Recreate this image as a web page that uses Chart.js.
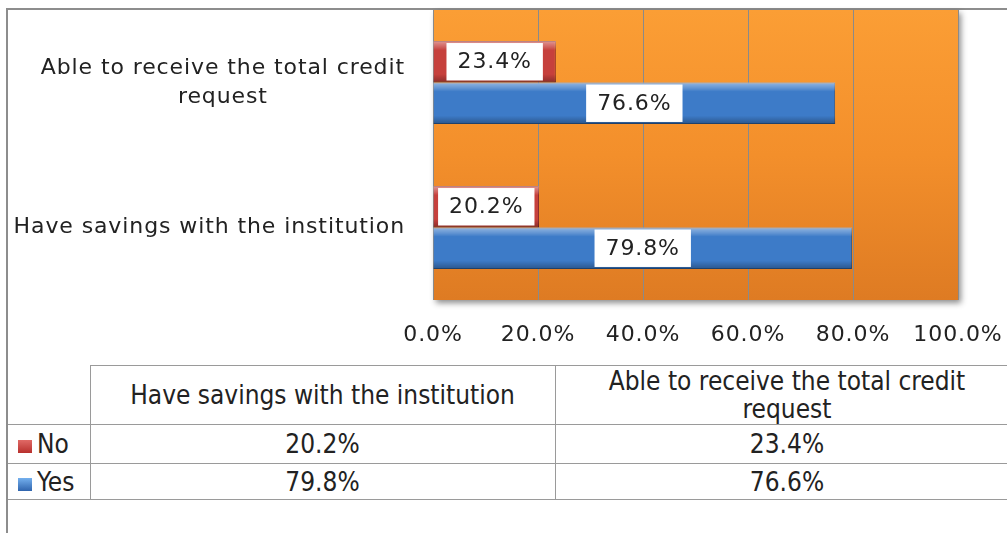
<!DOCTYPE html>
<html>
<head>
<meta charset="utf-8">
<script src="https://cdn.jsdelivr.net/npm/chart.js@4.4.0/dist/chart.umd.min.js"></script>
<style>
  html, body { margin: 0; padding: 0; width: 1007px; height: 533px; overflow: hidden; background: #fff; }
  #frame { position: absolute; left: 6px; top: 8px; width: 1100px; height: 600px;
    border-top: 2px solid #8d8d8d; border-left: 2px solid #8d8d8d; }
  #chartBox { position: absolute; left: 0; top: 0; width: 1007px; height: 360px; }
  #dataTable { position: absolute; left: 8px; top: 365px; width: 1011px; border-collapse: collapse; table-layout: fixed;
    font-family: "Liberation Sans Narrow", "DejaVu Sans Condensed", sans-serif; font-size: 26px; color: #222; }
  #dataTable td { border: 1.5px solid #9a9a9a; text-align: center; padding: 0; overflow: hidden; white-space: nowrap; }
  #dataTable td.corner { border-top: none; border-left: none; }
  #dataTable td.key { text-align: left; padding-left: 10px; border-left: none; }
  #dataTable tr.head td { height: 58px; line-height: 28px; }
  #dataTable tr.r0 td { height: 38px; }
  #dataTable tr.r1 td { height: 35px; }
  .swatch { display: inline-block; width: 14px; height: 13px; margin-right: 5px; vertical-align: 0px; }
</style>
</head>
<body>
<div id="frame"></div>
<div id="chartBox"><canvas id="barChart"></canvas></div>
<table id="dataTable"></table>
<script>
const categories = [["Have savings with the institution"], ["Able to receive the total credit", "request"]];
const seriesNames = ["No", "Yes"];
const noValues = [20.2, 23.4];
const yesValues = [79.8, 76.6];
const xTickValues = [0, 20, 40, 60, 80, 100];

const seriesColors = ["#c6403c", "#3d7bc8"];
const seriesBorders = ["#8c2b28", "#2b5a94"];
const swatchFills = [
  "linear-gradient(#e06a66, #b8302d)",
  "linear-gradient(#74b0ee, #2f64ad)"
];

const pct = v => v.toFixed(1) + "%";

// data table under the chart
const table = document.getElementById("dataTable");
let html = '<colgroup><col style="width:82px"><col style="width:465px"><col style="width:464px"></colgroup>';
html += '<tr class="head"><td class="corner"></td>' +
  categories.map(c => "<td>" + c.join("<br>") + "</td>").join("") + "</tr>";
[noValues, yesValues].forEach((vals, i) => {
  html += '<tr class="r' + i + '"><td class="key"><span class="swatch" style="background:' + swatchFills[i] +
    '"></span>' + seriesNames[i] + "</td>" + vals.map(v => "<td>" + pct(v) + "</td>").join("") + "</tr>";
});
table.innerHTML = html;

const plotBackground = {
  id: "plotBackground",
  beforeDraw(chart) {
    const { ctx, chartArea: a } = chart;
    ctx.letterSpacing = "0.9px"; // the original text is a bit stretched sideways
    ctx.save();
    ctx.shadowColor = "rgba(0,0,0,0.45)";
    ctx.shadowBlur = 6;
    ctx.shadowOffsetX = 3;
    ctx.shadowOffsetY = 3;
    const g = ctx.createLinearGradient(0, a.top, 0, a.bottom);
    g.addColorStop(0, "#fb9e35");
    g.addColorStop(0.5, "#f38f2b");
    g.addColorStop(1, "#de7b23");
    ctx.fillStyle = g;
    ctx.fillRect(a.left, a.top, a.right - a.left, a.bottom - a.top);
    ctx.restore();
  }
};

const barBevel = {
  id: "barBevel",
  afterDatasetsDraw(chart) {
    const ctx = chart.ctx;
    chart.data.datasets.forEach((ds, i) => {
      chart.getDatasetMeta(i).data.forEach(bar => {
        const top = bar.y - bar.height / 2, bottom = bar.y + bar.height / 2;
        const left = Math.min(bar.x, bar.base), right = Math.max(bar.x, bar.base);
        const g = ctx.createLinearGradient(0, top, 0, bottom);
        g.addColorStop(0, "rgba(255,255,255,0.45)");
        g.addColorStop(0.14, "rgba(255,255,255,0.18)");
        g.addColorStop(0.22, "rgba(255,255,255,0)");
        g.addColorStop(0.8, "rgba(0,0,0,0)");
        g.addColorStop(1, "rgba(0,0,0,0.3)");
        ctx.save();
        ctx.fillStyle = g;
        ctx.fillRect(left, top, right - left, bottom - top);
        ctx.restore();
      });
    });
  }
};

const valueBoxes = {
  id: "valueBoxes",
  afterDatasetsDraw(chart) {
    const ctx = chart.ctx;
    ctx.save();
    ctx.font = "22px 'DejaVu Sans'";
    ctx.textAlign = "center";
    ctx.textBaseline = "middle";
    chart.data.datasets.forEach((ds, i) => {
      chart.getDatasetMeta(i).data.forEach((bar, j) => {
        const text = pct(ds.data[j]);
        const w = ctx.measureText(text).width + 22;
        const h = bar.height - 4;
        const cx = (bar.x + bar.base) / 2;
        ctx.fillStyle = "#fff";
        ctx.fillRect(cx - w / 2, bar.y - h / 2, w, h);
        ctx.fillStyle = "#222";
        ctx.fillText(text, cx, bar.y + 1);
      });
    });
    ctx.restore();
  }
};

const categoryLabels = {
  id: "categoryLabels",
  afterDraw(chart) {
    const ctx = chart.ctx;
    const yScale = chart.scales.y;
    ctx.save();
    ctx.font = "22px 'DejaVu Sans'";
    ctx.fillStyle = "#222";
    ctx.textAlign = "center";
    ctx.textBaseline = "middle";
    categories.forEach((lines, i) => {
      const y = yScale.getPixelForTick(i);
      const maxW = Math.max(...lines.map(l => ctx.measureText(l).width));
      const cx = yScale.right - 28 - maxW / 2;
      const lh = 29;
      lines.forEach((l, k) => ctx.fillText(l, cx, y - (lines.length - 1) * lh / 2 + k * lh));
    });
    ctx.restore();
  }
};

new Chart(document.getElementById("barChart"), {
  type: "bar",
  data: {
    labels: categories,
    datasets: [
      { label: seriesNames[0], data: noValues, backgroundColor: seriesColors[0], borderColor: seriesBorders[0], borderWidth: 1 },
      { label: seriesNames[1], data: yesValues, backgroundColor: seriesColors[1], borderColor: seriesBorders[1], borderWidth: 1 }
    ]
  },
  options: {
    indexAxis: "y",
    responsive: true,
    maintainAspectRatio: false,
    animation: false,
    datasets: { bar: { categoryPercentage: 0.572, barPercentage: 1 } },
    layout: { padding: { top: 10, right: 49, left: 0, bottom: 0 } },
    plugins: { legend: { display: false }, tooltip: { enabled: false } },
    scales: {
      x: {
        min: 0,
        max: 100,
        afterBuildTicks: s => { s.ticks = xTickValues.map(v => ({ value: v })); },
        afterFit: s => { s.height = 60; s.paddingLeft = 0; s.paddingRight = 0; },
        grid: { color: "#8a8a8a", lineWidth: 1, drawTicks: false },
        border: { display: false },
        ticks: { callback: v => pct(v), font: { family: "DejaVu Sans", size: 22 }, color: "#222", padding: 22, maxRotation: 0 }
      },
      y: {
        reverse: true,
        afterFit: s => { s.width = 433; },
        grid: { display: false },
        border: { display: false },
        ticks: { display: false }
      }
    }
  },
  plugins: [plotBackground, barBevel, valueBoxes, categoryLabels]
});
</script>
</body>
</html>
